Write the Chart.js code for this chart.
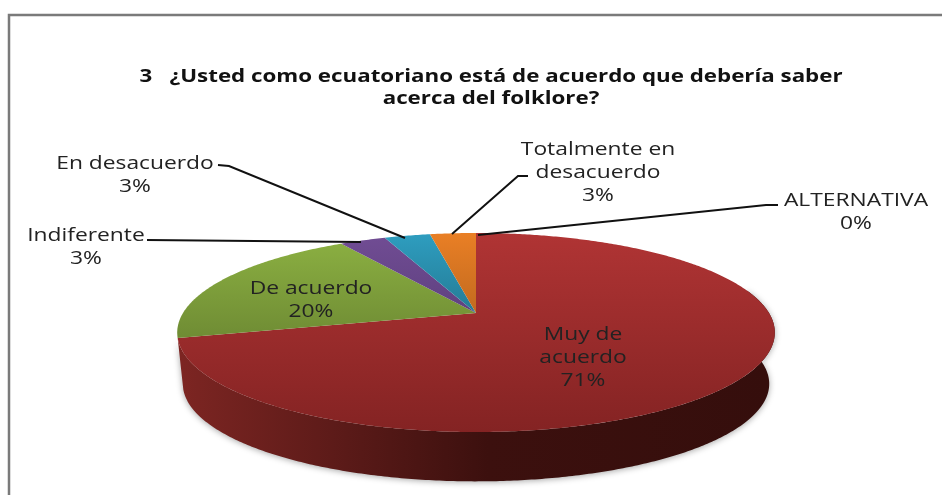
<!DOCTYPE html>
<html lang="es">
<head>
<meta charset="utf-8">
<style>html,body{margin:0;padding:0;background:#fff}#wrap{width:942px;height:495px}canvas{display:block}</style>
<script src="https://cdn.jsdelivr.net/npm/chart.js@4"></script>
</head>
<body>
<div id="wrap"><canvas id="c" width="942" height="495"></canvas></div>
<script>
const categories = ['Muy de acuerdo','De acuerdo','Indiferente','En desacuerdo','Totalmente en desacuerdo','ALTERNATIVA'];
const seriesValues = [71,20,3,3,3,0];
const sliceColors = ['#b03434','#8aae41','#704c93','#2e9dbf','#e97f25','#4f81bd'];
const sliceDark = ['#842323','#6f8c34','#5f4180','#247b95','#c26a1f','#3f6797'];
const percentLabels = ['71%','20%','3%','3%','3%','0%'];
const titleLines = ['3   ¿Usted como ecuatoriano está de acuerdo que debería saber','acerca del folklore?'];

const view = {cx:476, y0:313, A:293, B:95.7, k:0.196, depth:52, shrink:0.982};
const labelFont = '19px "Open Sans"';
const titleFont = 'bold 18px "Open Sans"';
const labelStretch = 1.2, titleStretch = 1.24;
const callouts = [
  {lines:['Muy de','acuerdo'], x:583, y:335},
  {lines:['De acuerdo'], x:311, y:289},
  {lines:['Indiferente'], x:86, y:236, leader:[[147,240],[361,242]]},
  {lines:['En desacuerdo'], x:135, y:164, leader:[[218,165],[229,166],[405,238]]},
  {lines:['Totalmente en','desacuerdo'], x:598, y:150, leader:[[528,176],[518,176],[452,234]]},
  {lines:['ALTERNATIVA'], x:856, y:201, leader:[[778,205],[766,205],[478,235]]}
];

function project(theta, s, dy){
  const u = Math.sin(theta)*s, v = -Math.cos(theta)*s;
  const d = 1 - view.k*v;
  return [view.cx + view.A*u/d, view.y0 + dy + view.B*v/d];
}
function rim(ctx, a, b, s, dy, first){
  const n = Math.max(2, Math.ceil(Math.abs(b-a)/0.01));
  for(let i=0;i<=n;i++){
    const t = a+(b-a)*i/n, p = project(t,s,dy);
    if(i===0 && first) ctx.moveTo(p[0],p[1]); else ctx.lineTo(p[0],p[1]);
  }
}
function stretchedText(ctx, text, x, y, sx){
  ctx.save();ctx.translate(x,y);ctx.scale(sx,1);ctx.fillText(text,0,0);ctx.restore();
}
const pie3d = {
  id:'pie3d',
  beforeDatasetDraw(chart, args){
    const ctx = chart.ctx, arcs = chart.getDatasetMeta(args.index).data;
    const spans = arcs.map(e=>({a:e.startAngle+Math.PI/2, b:e.endAngle+Math.PI/2}));
    ctx.save();
    // side wall, only the part facing the viewer
    spans.forEach((sp,i)=>{
      if(sp.b-sp.a<=0) return;
      const a=Math.max(sp.a,Math.PI*0.42), b=Math.min(sp.b,Math.PI*1.42);
      if(b<=a) return;
      const g=ctx.createLinearGradient(183,0,770,0);
      g.addColorStop(0,'#7c2522');g.addColorStop(0.28,'#5a1a18');g.addColorStop(0.52,'#3c100e');g.addColorStop(1,'#350e0c');
      ctx.save();
      ctx.shadowColor='rgba(0,0,0,0.35)';ctx.shadowBlur=6;ctx.shadowOffsetY=1;
      ctx.fillStyle=g;
      ctx.beginPath();rim(ctx,a,b,1,0,true);rim(ctx,b,a,view.shrink,view.depth,false);ctx.closePath();ctx.fill();
      ctx.restore();
    });
    // top faces
    spans.forEach((sp,i)=>{
      if(sp.b-sp.a<=0) return;
      const n=Math.ceil((sp.b-sp.a)/0.01);let top=view.y0,bot=view.y0;
      for(let j=0;j<=n;j++){const p=project(sp.a+(sp.b-sp.a)*j/n,1,0);top=Math.min(top,p[1]);bot=Math.max(bot,p[1]);}
      const g=ctx.createLinearGradient(0,top,0,bot);
      g.addColorStop(0,arcs[i].options.backgroundColor);g.addColorStop(1,sliceDark[i]);
      ctx.fillStyle=g;
      ctx.beginPath();ctx.moveTo(view.cx,view.y0);rim(ctx,sp.a,sp.b,1,0,false);ctx.closePath();ctx.fill();
    });
    ctx.restore();
    return false;
  },
  afterDatasetsDraw(chart){
    const ctx=chart.ctx;
    ctx.save();
    // frame
    ctx.strokeStyle='#7a7a7a';ctx.lineWidth=2.5;
    ctx.beginPath();ctx.moveTo(9,495);ctx.lineTo(9,15);ctx.lineTo(942,15);ctx.stroke();
    // leaders
    ctx.strokeStyle='#111';ctx.lineWidth=2;
    callouts.forEach(c=>{
      if(!c.leader) return;
      ctx.beginPath();c.leader.forEach((p,j)=>j?ctx.lineTo(p[0],p[1]):ctx.moveTo(p[0],p[1]));ctx.stroke();
    });
    ctx.textAlign='center';ctx.textBaseline='middle';
    // title
    ctx.font=titleFont;ctx.fillStyle='#111';
    titleLines.forEach((t,j)=>stretchedText(ctx,t,491,77+j*22,titleStretch));
    // labels
    ctx.font=labelFont;ctx.fillStyle='#222';
    callouts.forEach((c,i)=>{
      const lines=c.lines.concat(percentLabels[i]);
      lines.forEach((t,j)=>stretchedText(ctx,t,c.x,c.y+j*23,labelStretch));
    });
    ctx.restore();
  }
};
new Chart(document.getElementById('c'),{
  type:'pie',
  data:{labels:categories,datasets:[{data:seriesValues,backgroundColor:sliceColors,borderWidth:0}]},
  options:{
    responsive:false,animation:false,
    plugins:{legend:{display:false},tooltip:{enabled:false},title:{display:false}}
  },
  plugins:[pie3d]
});
</script>
</body>
</html>
